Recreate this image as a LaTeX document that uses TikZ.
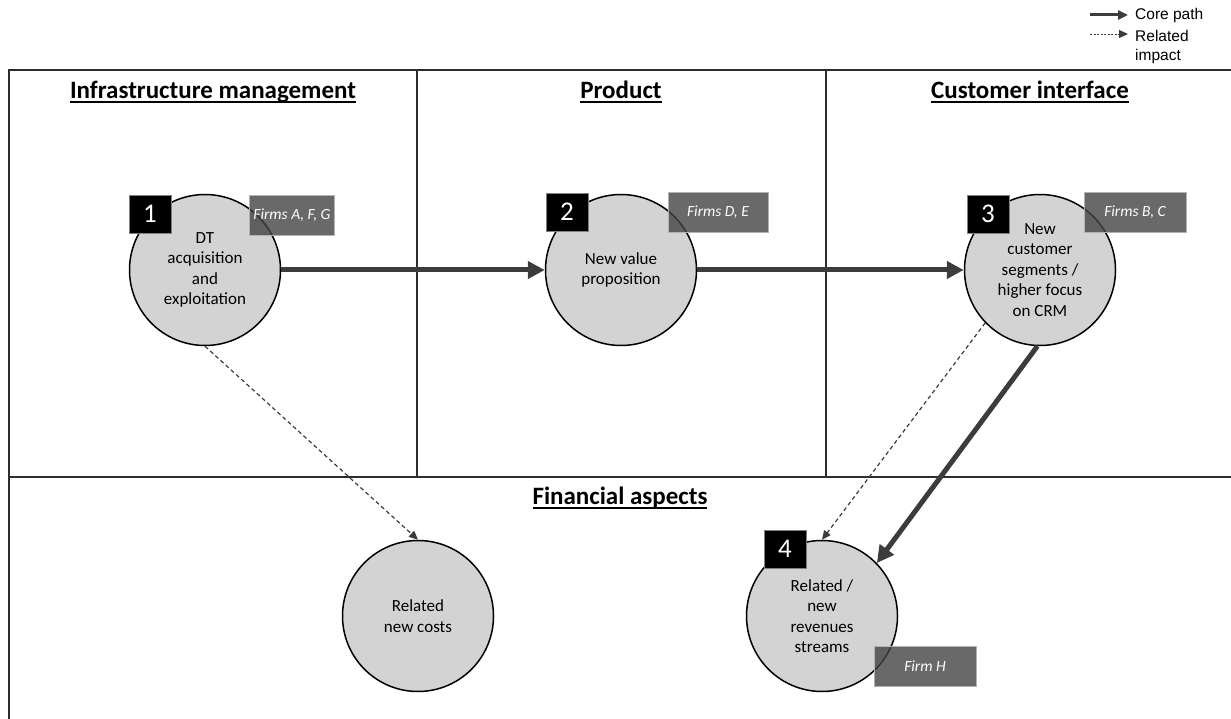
\documentclass[tikz,border=0pt]{standalone}
\usepackage{fontspec}
\setmainfont{Carlito}
\newfontfamily\legendfont{Liberation Sans}
\usetikzlibrary{arrows.meta}
\definecolor{framegray}{RGB}{45,45,45}
\definecolor{arrowgray}{RGB}{60,60,60}
\definecolor{bubgray}{RGB}{211,211,211}
\definecolor{firmgray}{RGB}{67,67,67}
\newcommand\headtext[1]{\setbox0\hbox{#1}\rlap{\rule[-4pt]{\wd0}{2pt}}\box0}
\tikzset{
 bub/.style={circle,draw=black,line width=1.5pt,fill=bubgray,minimum size=151pt,
  inner sep=0pt,align=center,font=\fontsize{17}{20.5}\selectfont},
 numbox/.style={draw=gray,line width=.8pt,fill=black,text=white,minimum width=42pt,
  minimum height=38pt,inner sep=0pt,font=\fontsize{27}{27}\selectfont},
 firmbox/.style={draw=gray!60,line width=.8pt,fill=firmgray,fill opacity=.8,text opacity=1,
  text=white,minimum height=40pt,inner sep=0pt,font=\fontsize{15.5}{15.5}\selectfont\itshape},
 core/.style={draw=arrowgray,line width=5pt,-{Triangle[length=17pt,width=17pt]}},
 rel/.style={draw=arrowgray,line width=1.2pt,dash pattern=on 4pt off 3pt,
  -{Triangle[length=9pt,width=8pt]}},
 heading/.style={font=\fontsize{25}{25}\selectfont\bfseries},
}
\begin{document}
\begin{tikzpicture}[x=1pt,y=-1pt]
 \useasboundingbox (0,0) rectangle (1231,719);
 % khung
 \draw[framegray,line width=2pt] (1231,70) -| (9,719) (9,477) -- (1231,477)
  (417,70) -- (417,477) (826,70) -- (826,477);
 \path
 (213,92) node[heading] (hInfra) {\headtext{Infrastructure management}}
 (621,92) node[heading] (hProd) {\headtext{Product}}
 (1030,92) node[heading] (hCust) {\headtext{Customer interface}}
 (620,498) node[heading] (hFin) {\headtext{Financial aspects}};
 % vòng tròn
 \path
 (205,270) node[bub] (dt) {DT\\acquisition\\and\\exploitation}
 ++(416,0) node[bub] (value) {New value\\proposition}
 ++(419,0) node[bub] (segm) {New\\customer\\segments /\\higher focus\\on CRM}
 (418,616) node[bub] (costs) {Related\\new costs}
 ++(404,0) node[bub] (rev) {Related /\\new\\revenues\\streams};
 % số và hãng
 \path
 (150,214) node[numbox] (n1) {1}
 (567,212) node[numbox] (n2) {2}
 (988,214) node[numbox] (n3) {3}
 (785,549) node[numbox] (n4) {4}
 (292,215) node[firmbox,minimum width=85pt] (f1) {Firms A, F, G}
 (718,212) node[firmbox,minimum width=100pt] (f2) {Firms D, E}
 (1135,212) node[firmbox,minimum width=102pt] (f3) {Firms B, C}
 (925,666) node[firmbox,minimum width=102pt] (f4) {Firm H};
 \draw[core] (dt) -- (value);
 \draw[core] (value) -- (segm);
 \draw[core] (segm.268) -- (rev.44);
 \draw[rel] (dt.south) -- (costs.north);
 \draw[rel] (segm.224) -- (rev.north);
 % chú thích
 \coordinate (k1a) at (1090,15);
 \coordinate (k1b) at (1128,15);
 \coordinate (k2a) at (1090,34);
 \coordinate (k2b) at (1128,34);
 \draw[arrowgray,line width=3pt,-{Triangle[length=10pt,width=9pt]}] (k1a) -- (k1b);
 \draw[arrowgray,line width=.8pt,dash pattern=on 2pt off 1.5pt,
  -{Triangle[length=9pt,width=8pt]}] (k2a) -- (k2b);
 \path
 (1135,15) node[anchor=west,inner sep=0pt,font=\legendfont\fontsize{15.5}{15.5}\selectfont] (kCore) {Core path}
 (1135,47) node[anchor=west,inner sep=0pt,align=left,font=\legendfont\fontsize{15.5}{19.5}\selectfont] (kRel) {Related\\impact};
\end{tikzpicture}
\end{document}
